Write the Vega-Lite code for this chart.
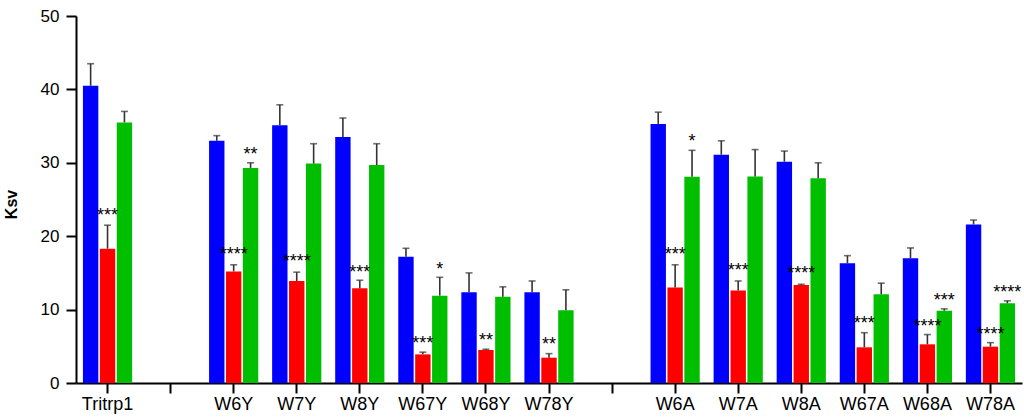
{
  "$schema": "https://vega.github.io/schema/vega-lite/v6.json",
  "width": 946,
  "height": 367,
  "autosize": {"type": "none"},
  "padding": {"left": 76, "top": 16, "right": 2, "bottom": 35},
  "config": {
    "view": {"stroke": null},
    "font": "Liberation Sans"
  },
  "data": {
    "values": [
      {"cat": "Tritrp1", "series": "s1", "value": 40.5, "err": 43.5, "star": "", "starY": null},
      {"cat": "Tritrp1", "series": "s2", "value": 18.3, "err": 21.5, "star": "***", "starY": 23.5},
      {"cat": "Tritrp1", "series": "s3", "value": 35.5, "err": 37.0, "star": "", "starY": null},
      {"cat": "W6Y", "series": "s1", "value": 33.0, "err": 33.7, "star": "", "starY": null},
      {"cat": "W6Y", "series": "s2", "value": 15.2, "err": 16.1, "star": "****", "starY": 18.1},
      {"cat": "W6Y", "series": "s3", "value": 29.3, "err": 30.0, "star": "**", "starY": 31.7},
      {"cat": "W7Y", "series": "s1", "value": 35.1, "err": 37.9, "star": "", "starY": null},
      {"cat": "W7Y", "series": "s2", "value": 13.9, "err": 15.1, "star": "****", "starY": 17.1},
      {"cat": "W7Y", "series": "s3", "value": 29.9, "err": 32.6, "star": "", "starY": null},
      {"cat": "W8Y", "series": "s1", "value": 33.5, "err": 36.1, "star": "", "starY": null},
      {"cat": "W8Y", "series": "s2", "value": 12.9, "err": 14.0, "star": "***", "starY": 15.7},
      {"cat": "W8Y", "series": "s3", "value": 29.7, "err": 32.6, "star": "", "starY": null},
      {"cat": "W67Y", "series": "s1", "value": 17.2, "err": 18.35, "star": "", "starY": null},
      {"cat": "W67Y", "series": "s2", "value": 3.9, "err": 4.2, "star": "***", "starY": 6.0},
      {"cat": "W67Y", "series": "s3", "value": 11.9, "err": 14.4, "star": "*", "starY": 16.1},
      {"cat": "W68Y", "series": "s1", "value": 12.35, "err": 15.0, "star": "", "starY": null},
      {"cat": "W68Y", "series": "s2", "value": 4.5, "err": 4.6, "star": "**", "starY": 6.45},
      {"cat": "W68Y", "series": "s3", "value": 11.75, "err": 13.1, "star": "", "starY": null},
      {"cat": "W78Y", "series": "s1", "value": 12.35, "err": 13.9, "star": "", "starY": null},
      {"cat": "W78Y", "series": "s2", "value": 3.45, "err": 4.0, "star": "**", "starY": 5.8},
      {"cat": "W78Y", "series": "s3", "value": 9.9, "err": 12.7, "star": "", "starY": null},
      {"cat": "W6A", "series": "s1", "value": 35.3, "err": 36.9, "star": "", "starY": null},
      {"cat": "W6A", "series": "s2", "value": 13.0, "err": 16.1, "star": "***", "starY": 18.1},
      {"cat": "W6A", "series": "s3", "value": 28.1, "err": 31.7, "star": "*", "starY": 33.5},
      {"cat": "W7A", "series": "s1", "value": 31.1, "err": 33.0, "star": "", "starY": null},
      {"cat": "W7A", "series": "s2", "value": 12.6, "err": 13.9, "star": "***", "starY": 15.9},
      {"cat": "W7A", "series": "s3", "value": 28.15, "err": 31.8, "star": "", "starY": null},
      {"cat": "W8A", "series": "s1", "value": 30.15, "err": 31.6, "star": "", "starY": null},
      {"cat": "W8A", "series": "s2", "value": 13.35, "err": 13.45, "star": "****", "starY": 15.5},
      {"cat": "W8A", "series": "s3", "value": 27.9, "err": 30.0, "star": "", "starY": null},
      {"cat": "W67A", "series": "s1", "value": 16.3, "err": 17.35, "star": "", "starY": null},
      {"cat": "W67A", "series": "s2", "value": 4.86, "err": 6.85, "star": "***", "starY": 8.7},
      {"cat": "W67A", "series": "s3", "value": 12.1, "err": 13.6, "star": "", "starY": null},
      {"cat": "W68A", "series": "s1", "value": 17.0, "err": 18.4, "star": "", "starY": null},
      {"cat": "W68A", "series": "s2", "value": 5.27, "err": 6.6, "star": "****", "starY": 8.3},
      {"cat": "W68A", "series": "s3", "value": 9.85, "err": 10.1, "star": "***", "starY": 11.8},
      {"cat": "W78A", "series": "s1", "value": 21.6, "err": 22.2, "star": "", "starY": null},
      {"cat": "W78A", "series": "s2", "value": 4.95, "err": 5.5, "star": "****", "starY": 7.2},
      {"cat": "W78A", "series": "s3", "value": 10.85, "err": 11.2, "star": "****", "starY": 12.9}
    ]
  },
  "encoding": {
    "x": {
      "field": "cat",
      "type": "nominal",
      "scale": {
        "domain": ["Tritrp1", "gap1", "W6Y", "W7Y", "W8Y", "W67Y", "W68Y", "W78Y", "gap2", "W6A", "W7A", "W8A", "W67A", "W68A", "W78A"],
        "paddingInner": 0.22,
        "paddingOuter": 0.11
      },
      "axis": {
        "title": null,
        "labelAngle": 0,
        "labelExpr": "indexof(datum.value, 'gap') === 0 ? '' : datum.value",
        "labelFontSize": 18,
        "labelColor": "#000000",
        "labelPadding": 2,
        "domainColor": "#000000",
        "domainWidth": 2,
        "tickColor": "#000000",
        "tickWidth": 2,
        "tickSize": 10
      }
    },
    "xOffset": {
      "field": "series",
      "type": "nominal",
      "scale": {"domain": ["s1", "s2", "s3"], "paddingInner": 0.09}
    }
  },
  "layer": [
    {
      "mark": {"type": "bar"},
      "encoding": {
        "y": {
          "field": "value",
          "type": "quantitative",
          "scale": {"domain": [0, 50], "nice": false},
          "axis": {
            "title": "Ksv",
            "titleFontSize": 16,
            "titleFontWeight": "bold",
            "titleColor": "#000000",
            "titleX": -65,
            "titleY": 188,
            "titleAngle": -90,
            "titleAlign": "center",
            "titleBaseline": "middle",
            "values": [0, 10, 20, 30, 40, 50],
            "grid": false,
            "labelFontSize": 17,
            "labelColor": "#000000",
            "labelPadding": 7,
            "domainColor": "#000000",
            "domainWidth": 2,
            "tickColor": "#000000",
            "tickWidth": 2,
            "tickSize": 10
          }
        },
        "color": {
          "field": "series",
          "type": "nominal",
          "scale": {"domain": ["s1", "s2", "s3"], "range": ["#0000FF", "#FF0000", "#00BF00"]},
          "legend": null
        }
      }
    },
    {
      "mark": {"type": "rule", "color": "#333333", "strokeWidth": 1.6},
      "encoding": {
        "y": {"field": "value", "type": "quantitative"},
        "y2": {"field": "err"}
      }
    },
    {
      "mark": {"type": "tick", "color": "#333333", "thickness": 1.6, "size": 7},
      "encoding": {
        "y": {"field": "err", "type": "quantitative"}
      }
    },
    {
      "transform": [{"filter": "datum.star !== ''"}],
      "mark": {"type": "text", "fontSize": 18, "baseline": "middle", "dy": 5, "color": "#000000"},
      "encoding": {
        "y": {"field": "starY", "type": "quantitative"},
        "text": {"field": "star"}
      }
    }
  ]
}
